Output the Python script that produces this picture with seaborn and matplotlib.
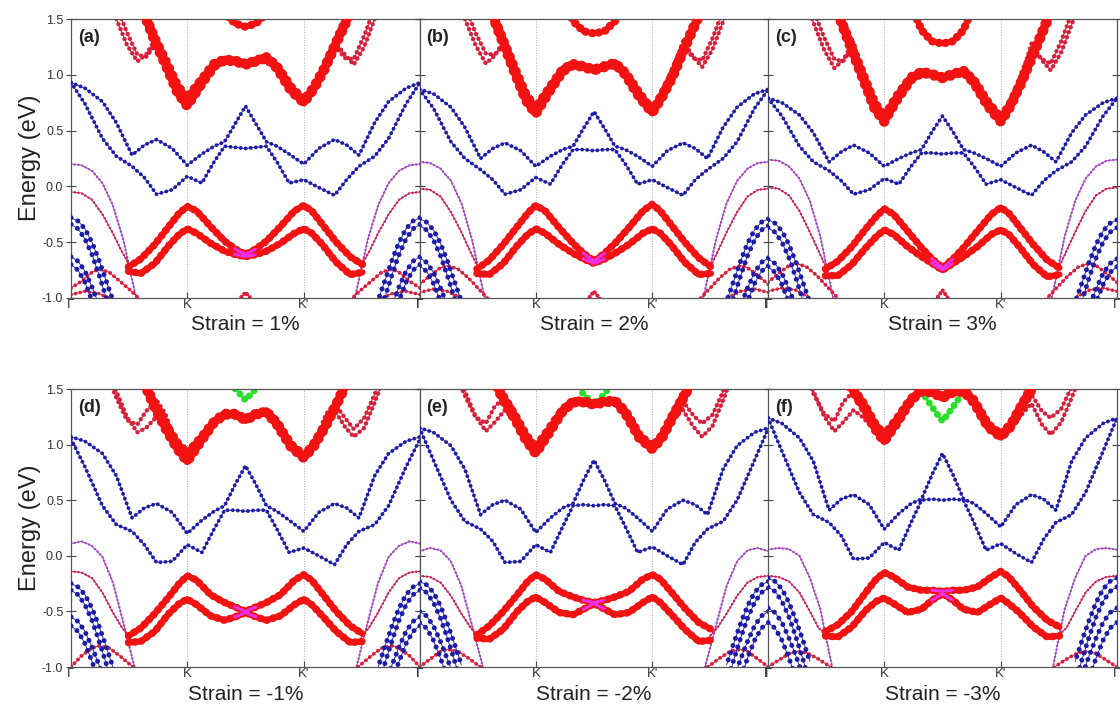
import matplotlib
matplotlib.use('Agg')
import matplotlib.pyplot as plt
import seaborn as sns

sns.set_theme(style='white')
plt.rcParams['font.family'] = ['Liberation Sans', 'DejaVu Sans']

PANELS = ['a', 'b', 'c', 'd', 'e', 'f']
STRAIN = ['1%', '2%', '3%', '-1%', '-2%', '-3%']
K_TICKS = [0, 1/3, 2/3, 1]
K_LABELS = ['Γ', 'K', "K'", 'Γ']
E_TICKS = [-1.0, -0.5, 0.0, 0.5, 1.0, 1.5]

# k-path knots (fraction of Γ-K-K'-Γ)
K_FULL = [0, .04, .09, .13, .175, .21, .245, .29, .333, .375, .41, .44, .47, .5,
          .53, .56, .59, .625, .667, .71, .755, .79, .825, .87, .91, .96, 1]
K_CB = [.20, .24, .275, .305, .333, .37, .41, .44, .47, .5, .53, .56, .59, .63,
        .667, .695, .725, .76, .80]
K_VB = [.165, .20, .24, .28, .31, .333, .36, .40, .44, .47, .5, .53, .56, .60,
        .64, .667, .69, .72, .76, .80, .835]
K_TL = [.10, .13, .16, .19, .215, .245, .27, .30]
K_TR = [.70, .73, .755, .785, .81, .84, .87, .90]
K_BOWL = [.42, .44, .47, .5, .53, .56, .58]
K_GREEN = [.44, .465, .5, .535, .56]
K_M1 = [0, .03, .06, .09, .12, .15, .19]
K_M2 = [0, .03, .06, .09, .12, .145, .17]
K_BT = [0, .02, .04, .06, .08, .10, .12]
K_RL1 = [0, .03, .06, .08, .11, .14, .17, .20]
K_RL2 = [0, .04, .08, .12]
K_CAP = [.48, .5, .52]

# upper "blue" band (eV)
blue_up = {
    'a': [.93, .88, .76, .57, .28, .37, .42, .34, .19, .29, .36, .40, .56, .72, .56, .40, .36, .29, .20, .34, .42, .37, .28, .57, .76, .88, .93],
    'b': [.87, .83, .71, .53, .25, .34, .39, .32, .18, .27, .33, .36, .52, .67, .52, .36, .33, .27, .18, .32, .39, .34, .25, .53, .71, .83, .87],
    'c': [.79, .75, .64, .48, .22, .31, .37, .30, .18, .25, .30, .33, .49, .63, .49, .33, .30, .25, .18, .30, .37, .31, .22, .48, .64, .75, .79],
    'd': [1.07, 1.03, .92, .72, .34, .43, .47, .39, .20, .32, .40, .45, .64, .81, .64, .45, .40, .32, .22, .39, .47, .43, .34, .72, .92, 1.03, 1.07],
    'e': [1.15, 1.11, .99, .78, .37, .46, .50, .42, .21, .34, .43, .47, .68, .86, .68, .47, .43, .34, .22, .42, .50, .46, .37, .78, .99, 1.11, 1.15],
    'f': [1.24, 1.19, 1.06, .85, .41, .51, .55, .46, .24, .38, .47, .51, .73, .92, .73, .51, .47, .38, .26, .46, .55, .51, .41, .85, 1.06, 1.19, 1.24],
}
# lower "blue" band (eV)
blue_lo = {
    'a': [.93, .74, .43, .27, .18, .08, -.07, -.03, .09, .03, .22, .36, .35, .34, .35, .36, .22, .03, .06, -.01, -.08, .06, .18, .27, .43, .74, .93],
    'b': [.87, .70, .40, .25, .15, .06, -.07, -.03, .08, .02, .20, .33, .33, .32, .33, .33, .20, .02, .06, -.01, -.08, .06, .15, .25, .40, .70, .87],
    'c': [.79, .63, .36, .22, .14, .05, -.07, -.03, .07, .02, .18, .30, .30, .29, .30, .30, .18, .02, .06, -.01, -.08, .05, .14, .22, .36, .63, .79],
    'd': [1.05, .80, .45, .28, .22, .10, -.06, -.05, .10, .03, .24, .41, .41, .40, .41, .41, .24, .03, .07, .00, -.08, .10, .22, .28, .45, .80, 1.05],
    'e': [1.15, .86, .50, .31, .24, .13, -.06, -.05, .10, .03, .26, .45, .46, .45, .46, .45, .26, .03, .08, .00, -.08, .12, .24, .31, .50, .86, 1.15],
    'f': [1.24, .94, .57, .37, .30, .18, -.03, -.02, .12, .05, .30, .50, .51, .50, .51, .50, .30, .05, .11, .02, -.06, .15, .30, .37, .57, .94, 1.24],
}
# thick red conduction bands
cb1 = {
    'a': [1.62, 1.30, 1.06, .84, .72, .90, 1.08, 1.13, 1.12, 1.09, 1.12, 1.15, 1.06, .86, .75, .87, 1.04, 1.28, 1.55],
    'b': [1.60, 1.28, 1.00, .77, .65, .84, 1.03, 1.09, 1.07, 1.04, 1.07, 1.10, 1.00, .80, .66, .80, .98, 1.24, 1.52],
    'c': [1.55, 1.22, .94, .70, .58, .78, .96, 1.02, 1.00, .97, 1.00, 1.03, .93, .72, .58, .72, .92, 1.18, 1.48],
    'd': [1.62, 1.33, 1.12, .96, .85, 1.02, 1.20, 1.27, 1.27, 1.22, 1.27, 1.29, 1.18, .98, .88, .98, 1.14, 1.35, 1.62],
    'e': [1.66, 1.40, 1.22, 1.04, .92, 1.10, 1.30, 1.38, 1.38, 1.36, 1.38, 1.39, 1.28, 1.06, .96, 1.06, 1.24, 1.44, 1.68],
    'f': [1.72, 1.50, 1.33, 1.15, 1.03, 1.20, 1.40, 1.48, 1.47, 1.42, 1.47, 1.48, 1.38, 1.16, 1.07, 1.16, 1.33, 1.52, 1.75],
}
cb2 = {
    'a': [1.64, 1.33, 1.10, .90, .79, .94, 1.10, 1.14, 1.13, 1.10, 1.13, 1.16, 1.08, .89, .77, .89, 1.06, 1.30, 1.57],
    'b': [1.62, 1.31, 1.04, .82, .70, .87, 1.05, 1.10, 1.08, 1.05, 1.08, 1.11, 1.02, .83, .68, .82, 1.00, 1.26, 1.54],
    'c': [1.57, 1.25, .98, .75, .62, .81, .98, 1.03, 1.01, .98, 1.01, 1.04, .95, .75, .61, .74, .94, 1.20, 1.50],
    'd': [1.64, 1.36, 1.16, 1.01, .92, 1.05, 1.21, 1.28, 1.28, 1.23, 1.28, 1.30, 1.20, 1.00, .90, 1.00, 1.16, 1.37, 1.64],
    'e': [1.68, 1.43, 1.25, 1.08, .97, 1.13, 1.31, 1.39, 1.39, 1.37, 1.39, 1.40, 1.30, 1.08, .98, 1.08, 1.26, 1.46, 1.70],
    'f': [1.74, 1.52, 1.36, 1.19, 1.08, 1.23, 1.41, 1.49, 1.48, 1.43, 1.48, 1.49, 1.40, 1.18, 1.09, 1.18, 1.35, 1.54, 1.77],
}
# thin red bands near the top, left and right of the CB
thin_l1 = {
    'a': [1.75, 1.50, 1.27, 1.12, 1.18, 1.34, 1.10, .88],
    'b': [1.75, 1.50, 1.27, 1.10, 1.17, 1.32, 1.05, .82],
    'c': [1.72, 1.47, 1.23, 1.06, 1.13, 1.30, 1.00, .76],
    'd': [1.72, 1.48, 1.25, 1.11, 1.15, 1.25, 1.15, .98],
    'e': [1.72, 1.48, 1.26, 1.12, 1.20, 1.31, 1.22, 1.06],
    'f': [1.72, 1.48, 1.26, 1.12, 1.20, 1.31, 1.25, 1.15],
}
thin_l2 = {
    'a': [1.85, 1.62, 1.38, 1.18, 1.16, 1.28, 1.14, .92],
    'b': [1.85, 1.62, 1.38, 1.19, 1.18, 1.28, 1.08, .85],
    'c': [1.82, 1.58, 1.34, 1.14, 1.12, 1.26, 1.03, .79],
    'd': [1.65, 1.42, 1.22, 1.18, 1.30, 1.40, 1.28, 1.02],
    'e': [1.66, 1.44, 1.25, 1.19, 1.34, 1.43, 1.32, 1.10],
    'f': [1.68, 1.46, 1.28, 1.21, 1.38, 1.48, 1.38, 1.20],
}
thin_r1 = {
    'a': [.90, 1.12, 1.30, 1.18, 1.09, 1.25, 1.50, 1.75],
    'b': [.85, 1.08, 1.30, 1.16, 1.07, 1.23, 1.48, 1.73],
    'c': [.78, 1.02, 1.28, 1.13, 1.04, 1.20, 1.45, 1.70],
    'd': [1.00, 1.22, 1.31, 1.16, 1.07, 1.15, 1.38, 1.62],
    'e': [1.08, 1.24, 1.31, 1.16, 1.07, 1.17, 1.40, 1.65],
    'f': [1.16, 1.28, 1.37, 1.18, 1.09, 1.20, 1.42, 1.66],
}
thin_r2 = {
    'a': [.92, 1.14, 1.26, 1.15, 1.14, 1.35, 1.60, 1.85],
    'b': [.87, 1.10, 1.26, 1.15, 1.13, 1.33, 1.58, 1.83],
    'c': [.80, 1.05, 1.24, 1.14, 1.10, 1.30, 1.55, 1.80],
    'd': [1.02, 1.27, 1.37, 1.24, 1.14, 1.24, 1.45, 1.70],
    'e': [1.10, 1.30, 1.39, 1.26, 1.19, 1.27, 1.48, 1.72],
    'f': [1.18, 1.34, 1.45, 1.30, 1.24, 1.32, 1.52, 1.75],
}
top_bowl = {
    'a': [1.70, 1.55, 1.46, 1.43, 1.46, 1.55, 1.70],
    'b': [1.62, 1.48, 1.39, 1.37, 1.39, 1.48, 1.62],
    'c': [1.55, 1.40, 1.30, 1.28, 1.30, 1.40, 1.55],
}
green_bowl = {
    'd': [1.80, 1.52, 1.40, 1.52, 1.80],
    'e': [1.70, 1.47, 1.36, 1.47, 1.70],
    'f': [1.48, 1.36, 1.21, 1.36, 1.48],
}
# thin bands leaving Γ (mirrored on the right-hand Γ)
m1 = {
    'a': [.20, .19, .14, .03, -.17, -.48, -1.05],
    'b': [.22, .21, .16, .05, -.15, -.47, -1.05],
    'c': [.24, .23, .18, .07, -.13, -.45, -1.05],
    'd': [.11, .13, .09, -.01, -.24, -.60, -1.10],
    'e': [.04, .07, .05, -.05, -.27, -.62, -1.10],
    'f': [.055, .07, .06, .00, -.20, -.48, -1.10],
}
m2 = {
    'a': [-.05, -.06, -.12, -.25, -.42, -.58, -.72],
    'b': [-.02, -.03, -.09, -.23, -.41, -.58, -.74],
    'c': [-.01, -.02, -.08, -.22, -.41, -.58, -.75],
    'd': [-.14, -.15, -.20, -.33, -.51, -.64, -.74],
    'e': [-.18, -.19, -.24, -.36, -.52, -.64, -.73],
    'f': [-.18, -.19, -.23, -.33, -.50, -.65, -.72],
}
# thick red valence bands
vb_up = {
    'a': [-.72, -.65, -.52, -.36, -.24, -.18, -.22, -.36, -.49, -.56, -.61, -.56, -.49, -.36, -.22, -.17, -.22, -.34, -.50, -.63, -.70],
    'b': [-.74, -.66, -.52, -.36, -.24, -.17, -.22, -.37, -.51, -.60, -.67, -.60, -.51, -.37, -.22, -.16, -.22, -.34, -.50, -.64, -.72],
    'c': [-.74, -.67, -.54, -.38, -.27, -.20, -.25, -.40, -.55, -.65, -.73, -.65, -.55, -.40, -.25, -.19, -.24, -.36, -.52, -.66, -.73],
    'd': [-.72, -.65, -.52, -.37, -.25, -.18, -.22, -.35, -.42, -.46, -.50, -.46, -.42, -.35, -.22, -.17, -.22, -.34, -.50, -.63, -.70],
    'e': [-.71, -.63, -.50, -.35, -.23, -.17, -.21, -.32, -.37, -.40, -.42, -.40, -.37, -.32, -.21, -.17, -.21, -.32, -.47, -.60, -.66],
    'f': [-.68, -.62, -.50, -.33, -.21, -.15, -.19, -.28, -.31, -.31, -.32, -.31, -.31, -.28, -.19, -.14, -.19, -.30, -.46, -.58, -.64],
}
vb_lo = {
    'a': [-.76, -.78, -.69, -.53, -.43, -.38, -.42, -.51, -.58, -.61, -.63, -.61, -.58, -.51, -.42, -.38, -.42, -.52, -.68, -.79, -.77],
    'b': [-.78, -.79, -.69, -.53, -.43, -.38, -.42, -.52, -.60, -.65, -.69, -.65, -.60, -.52, -.42, -.38, -.42, -.52, -.68, -.79, -.78],
    'c': [-.80, -.80, -.70, -.55, -.45, -.39, -.43, -.54, -.63, -.69, -.75, -.69, -.63, -.54, -.43, -.39, -.43, -.54, -.70, -.81, -.79],
    'd': [-.78, -.77, -.68, -.52, -.43, -.39, -.44, -.54, -.58, -.55, -.51, -.55, -.58, -.54, -.44, -.39, -.44, -.54, -.68, -.78, -.77],
    'e': [-.74, -.75, -.66, -.50, -.41, -.37, -.42, -.51, -.53, -.48, -.43, -.48, -.53, -.51, -.42, -.37, -.42, -.52, -.66, -.77, -.76],
    'f': [-.72, -.73, -.64, -.49, -.41, -.38, -.43, -.51, -.48, -.40, -.34, -.40, -.48, -.51, -.43, -.38, -.43, -.51, -.64, -.73, -.72],
}
# thick blue bands at Γ
bt1 = {'a': [-.28, -.31, -.38, -.50, -.66, -.84, -1.02], 'b': [-.29, -.32, -.39, -.51, -.67, -.85, -1.03],
       'c': [-.30, -.33, -.40, -.52, -.68, -.86, -1.04], 'd': [-.25, -.28, -.35, -.47, -.63, -.81, -1.0],
       'e': [-.23, -.26, -.33, -.45, -.61, -.79, -.98], 'f': [-.20, -.23, -.30, -.42, -.58, -.76, -.95]}
bt2 = {'a': [-.34, -.38, -.47, -.61, -.79, -.99, -1.2], 'b': [-.35, -.39, -.48, -.62, -.80, -1.0, -1.2],
       'c': [-.37, -.41, -.50, -.64, -.82, -1.02, -1.2], 'd': [-.31, -.35, -.44, -.58, -.76, -.96, -1.2],
       'e': [-.29, -.33, -.42, -.56, -.74, -.94, -1.15], 'f': [-.28, -.32, -.41, -.55, -.73, -.93, -1.15]}
bt3 = {'a': [-.63, -.67, -.76, -.90, -1.06, -1.2, -1.3], 'b': [-.64, -.68, -.77, -.91, -1.07, -1.2, -1.3],
       'c': [-.65, -.69, -.78, -.92, -1.08, -1.2, -1.3], 'd': [-.55, -.59, -.68, -.82, -.98, -1.15, -1.3],
       'e': [-.50, -.54, -.63, -.77, -.93, -1.1, -1.3], 'f': [-.47, -.51, -.60, -.74, -.90, -1.08, -1.3]}
bt4 = {'a': [-.70, -.75, -.86, -1.02, -1.2, -1.3, -1.4], 'b': [-.71, -.76, -.87, -1.03, -1.2, -1.3, -1.4],
       'c': [-.72, -.77, -.88, -1.04, -1.2, -1.3, -1.4], 'd': [-.63, -.68, -.79, -.95, -1.12, -1.3, -1.4],
       'e': [-.60, -.65, -.76, -.92, -1.1, -1.3, -1.4], 'f': [-.60, -.65, -.76, -.92, -1.1, -1.3, -1.4]}
# thin red bands near the bottom at Γ
rl1 = {
    'a': [-.91, -.85, -.77, -.74, -.77, -.85, -.93, -1.02],
    'b': [-.88, -.80, -.73, -.71, -.74, -.82, -.92, -1.02],
    'c': [-.86, -.78, -.71, -.69, -.72, -.80, -.90, -1.00],
    'd': [-1.00, -.90, -.83, -.81, -.83, -.90, -.98, -1.05],
    'e': [-1.00, -.93, -.86, -.84, -.86, -.92, -.99, -1.05],
    'f': [-1.00, -.94, -.88, -.86, -.87, -.92, -.98, -1.05],
}
rl2 = {'a': [-.97, -.94, -.96, -1.02], 'b': [-.95, -.92, -.94, -1.0], 'c': [-.94, -.91, -.93, -1.0]}
cap = {'a': [-1.02, -.95, -1.02], 'b': [-1.02, -.94, -1.02], 'c': [-1.02, -.93, -1.02]}

RED = '#f21212'
THIN_RED = '#d8203c'
BLUE = '#1c1ca8'
PURPLE = '#a448c4'
CRIMSON = '#c8205c'
MAGENTA = '#ee30ee'
GREEN = '#28e028'


def band(ax, x, y, color, dot, gap, line, z):
    sns.lineplot(x=x, y=y, ax=ax, color=color, linewidth=line, estimator=None,
                 sort=False, zorder=z)
    sns.lineplot(x=x, y=y, ax=ax, color=color, linewidth=dot, linestyle=(0, (0.01, gap)),
                 dash_capstyle='round', estimator=None, sort=False, zorder=z)


def mirror(k):
    return [1 - v for v in k]


fig = plt.figure(figsize=(11.2, 7.19), dpi=100)
lefts = [71 / 1120, 419.5 / 1120, 768 / 1120]
width = 349 / 1120
rows = [(1 - 298 / 719, 279 / 719), (1 - 667 / 719, 278 / 719)]

for i, p in enumerate(PANELS):
    r, c = divmod(i, 3)
    ax = fig.add_axes([lefts[c], rows[r][0], width, rows[r][1]])

    if p in green_bowl:
        band(ax, K_GREEN, green_bowl[p], GREEN, 5, 1.0, 1.5, 1)
    for k, d in [(K_TL, thin_l1), (K_TL, thin_l2), (K_TR, thin_r1), (K_TR, thin_r2)]:
        band(ax, k, d[p], THIN_RED, 3.2, 1.2, 0.7, 2)
    if p in top_bowl:
        band(ax, K_BOWL, top_bowl[p], RED, 6, 0.8, 4, 2)
    band(ax, K_CB, cb2[p], RED, 7, 0.8, 5, 3)
    band(ax, K_CB, cb1[p], RED, 7.5, 0.8, 5.5, 3)

    band(ax, K_FULL, blue_up[p], BLUE, 2.8, 1.3, 0.6, 3)
    band(ax, K_FULL, blue_lo[p], BLUE, 2.8, 1.3, 0.6, 3)

    for k in (K_M1, mirror(K_M1)):
        band(ax, k, m1[p], PURPLE, 1.8, 1.5, 0.7, 2)
    for k in (K_M2, mirror(K_M2)):
        band(ax, k, m2[p], CRIMSON, 1.8, 1.5, 0.7, 2)
    for k in (K_RL1, mirror(K_RL1)):
        band(ax, k, rl1[p], THIN_RED, 2.8, 1.3, 0.7, 2)
        if p in rl2:
            band(ax, K_RL2 if k == K_RL1 else mirror(K_RL2), rl2[p], THIN_RED, 2.6, 1.3, 0.7, 2)
    for d in (bt1, bt2, bt3, bt4):
        for k in (K_BT, mirror(K_BT)):
            band(ax, k, d[p], BLUE, 3.6, 1.5, 0.6, 3)
    if p in cap:
        band(ax, K_CAP, cap[p], THIN_RED, 3, 1.0, 0.8, 2)

    for d in (vb_lo, vb_up):
        band(ax, K_VB, d[p], RED, 5.5, 0.85, 4.5, 3)
        mid = [j for j, v in enumerate(K_VB) if .455 <= v <= .545]
        band(ax, [K_VB[j] for j in mid], [d[p][j] for j in mid], MAGENTA, 2.6, 1.0, 1.4, 4)

    ax.set_xlim(0, 1)
    ax.set_ylim(-1.0, 1.5)
    ax.set_xlabel('')
    ax.set_ylabel('')
    ax.set_xticks(K_TICKS)
    ax.set_xticklabels(K_LABELS)
    ax.set_yticks(E_TICKS)
    if c == 0:
        ax.set_yticklabels([f'{v:.1f}' for v in E_TICKS])
    else:
        ax.set_yticklabels([])
    for xv in K_TICKS[1:3]:
        ax.axvline(xv, color='#b0b0b0', lw=0.7, ls=':', zorder=0)
    ax.tick_params(axis='y', direction='inout', length=7, width=0.8, left=True, right=True,
                   labelsize=9, labelcolor='#333333', color='#444444', pad=2)
    ax.tick_params(axis='x', direction='in', length=4, width=0.8, bottom=True, top=False,
                   labelsize=9.5, labelcolor='#333333', color='#444444', pad=1)
    for s in ax.spines.values():
        s.set_color('#555555')
        s.set_linewidth(0.9)
    ax.text(0.02, 0.965, f'({p})', transform=ax.transAxes, ha='left', va='top',
            fontsize=13, fontweight='bold', color='#222222', zorder=6)

    cx = lefts[c] + width / 2
    ty = 1 - 325 / 719 if r == 0 else 1 - 695 / 719
    fig.text(cx, ty, f'Strain = {STRAIN[i]}', ha='center', va='center', fontsize=15,
             color='#222222')

fig.text(30 / 1120, 1 - 158 / 719, 'Energy (eV)', rotation=90, ha='center', va='center',
         fontsize=17, color='#222222')
fig.text(30 / 1120, 1 - 528 / 719, 'Energy (eV)', rotation=90, ha='center', va='center',
         fontsize=17, color='#222222')

fig.savefig('out.png', dpi=100, facecolor='white')
